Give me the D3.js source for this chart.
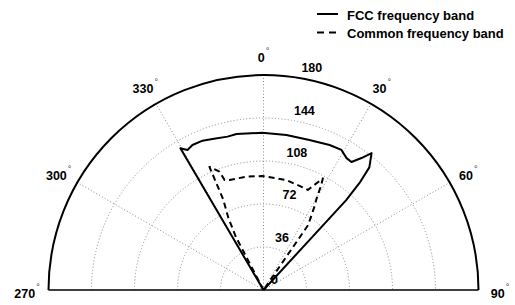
<!DOCTYPE html>
<html>
<head>
  <meta charset="utf-8">
  <script src="https://d3js.org/d3.v7.min.js"></script>
  <style>
    body { margin: 0; background: #fff; }
    text { font-family: "Liberation Sans", Arial, Helvetica, sans-serif; font-weight: bold; fill: #000; }
  </style>
</head>
<body>
<script>
  // data: angle in degrees (0 at top, clockwise), value on radial axis
  var fccAngles = [-30.4, -30.4, -28.5, -26.1, -22.2, -18.7, -13.2, -9.8, -0.4, 8.4, 17, 24.5, 29.1, 32.2, 34.5, 36.6, 38.3, 40.8, 41.9, 42.6, 42.6];
  var fccValues = [0, 137.5, 133.4, 135.2, 135, 133.4, 131.9, 132.5, 131.7, 131.2, 131.4, 133.4, 134.2, 130.5, 130, 137.6, 146, 135.6, 120.4, 102, 0];

  var commonAngles = [-27.5, -27.5, -26, -24, -23.7, -20.4, -19.5, -17.2, -8.7, -0.4, 11.7, 20.9, 23.9, 28, 28.8, 30.3, 31.2, 34.5, 34.5];
  var commonValues = [0, 50, 67, 83, 112.5, 105.7, 97.7, 96.4, 96, 95.4, 94, 92, 91.6, 105.9, 100.3, 87.4, 83.2, 66, 0];

  var radialTicks = [0, 36, 72, 108, 144, 180];
  var angleTicks = [270, 300, 330, 0, 30, 60, 90];
  var spokeTicks = [300, 330, 0, 30, 60];
  var legendNames = ["FCC frequency band", "Common frequency band"];

  var width = 515, height = 305;
  var cx = 263.5, cy = 290, R = 215;

  var svg = d3.select("body").append("svg")
    .attr("width", width)
    .attr("height", height);

  var r = d3.scaleLinear().domain([0, 180]).range([0, R]);
  var rad = function(d) { return d * Math.PI / 180; };

  var g = svg.append("g").attr("transform", "translate(" + cx + "," + cy + ")");

  // dotted rings
  radialTicks.slice(1, -1).forEach(function(v) {
    var p = d3.path();
    p.arc(0, 0, r(v), -Math.PI, 0);
    g.append("path").attr("d", p.toString())
      .attr("fill", "none").attr("stroke", "#8a8a8a")
      .attr("stroke-width", 1).attr("stroke-dasharray", "1,2.2");
  });

  // dotted spokes
  g.selectAll(".spoke").data(spokeTicks).enter().append("line")
    .attr("class", "spoke")
    .attr("x1", 0).attr("y1", 0)
    .attr("x2", function(d) { return R * Math.sin(rad(d)); })
    .attr("y2", function(d) { return -R * Math.cos(rad(d)); })
    .attr("stroke", "#8a8a8a").attr("stroke-width", 1).attr("stroke-dasharray", "1,2.2");

  // outer boundary
  var outer = d3.path();
  outer.arc(0, 0, r(180), -Math.PI, 0);
  g.append("path").attr("d", outer.toString())
    .attr("fill", "none").attr("stroke", "#000").attr("stroke-width", 2);
  g.append("line")
    .attr("x1", -r(180)).attr("x2", r(180)).attr("y1", 0).attr("y2", 0)
    .attr("stroke", "#000").attr("stroke-width", 1.5);

  // radial tick labels
  g.selectAll(".rlab").data(radialTicks).enter().append("text")
    .attr("class", "rlab")
    .attr("x", function(d) { return r(d) * Math.sin(rad(10)) + 11; })
    .attr("y", function(d) { return -r(d) * Math.cos(rad(10)) - 10; })
    .attr("text-anchor", "middle").attr("dominant-baseline", "central")
    .style("font-size", "12.5px")
    .text(function(d) { return d; });

  // angle labels
  var alab = g.selectAll(".alab").data(angleTicks).enter().append("text")
    .attr("class", "alab")
    .attr("x", function(d) { return 1.1 * R * Math.sin(rad(d)); })
    .attr("y", function(d) { return -1.1 * R * Math.cos(rad(d)) + 4; })
    .attr("text-anchor", "middle").attr("dominant-baseline", "central")
    .style("font-size", "12.5px");
  alab.append("tspan").text(function(d) { return d; });
  alab.append("tspan").attr("dx", 1).attr("dy", -7).style("font-size", "9px").style("font-weight", "normal")
    .style("fill", "#333").text("\u00b0");

  // data lines
  var line = d3.lineRadial()
    .angle(function(d) { return rad(d[0]); })
    .radius(function(d) { return r(d[1]); });

  g.append("path")
    .attr("d", line(d3.zip(fccAngles, fccValues)))
    .attr("fill", "none").attr("stroke", "#000").attr("stroke-width", 2)
    .attr("stroke-linejoin", "round");

  g.append("path")
    .attr("d", line(d3.zip(commonAngles, commonValues)))
    .attr("fill", "none").attr("stroke", "#000").attr("stroke-width", 2)
    .attr("stroke-dasharray", "6,4").attr("stroke-linejoin", "round");

  // legend
  var leg = svg.append("g");
  legendNames.forEach(function(name, i) {
    var y = 14 + i * 18.5;
    leg.append("line")
      .attr("x1", 317).attr("x2", 338).attr("y1", y).attr("y2", y)
      .attr("stroke", "#000").attr("stroke-width", 2)
      .attr("stroke-dasharray", i === 1 ? "7,5" : null);
    leg.append("text")
      .attr("x", 347).attr("y", y + 1)
      .attr("dominant-baseline", "central")
      .style("font-size", "13px")
      .text(name);
  });
</script>
</body>
</html>
